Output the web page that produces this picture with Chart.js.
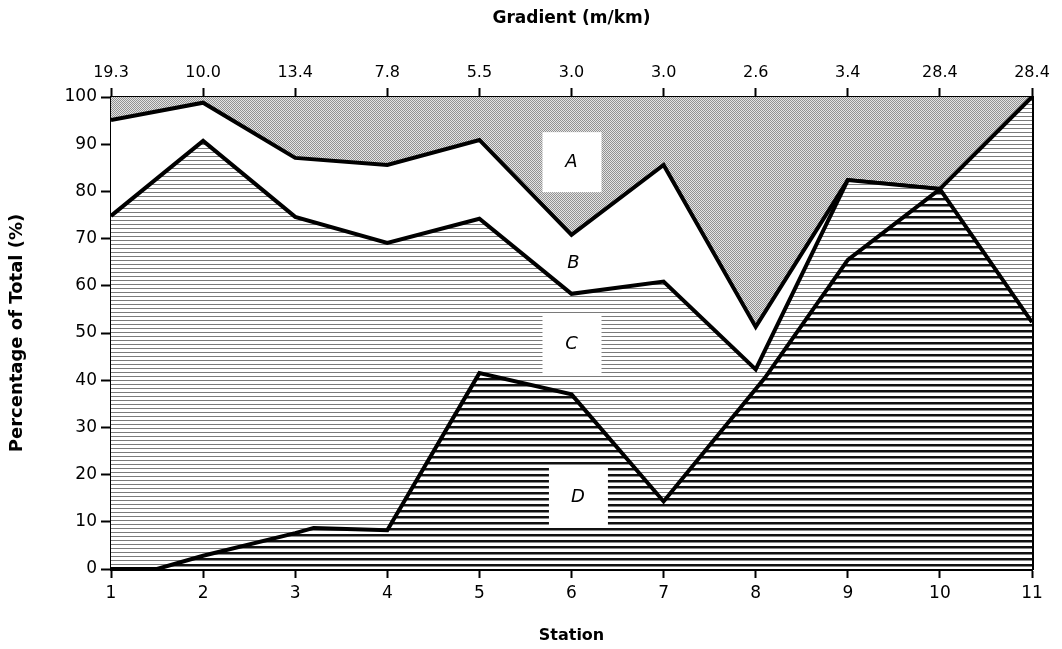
<!DOCTYPE html>
<html>
<head>
<meta charset="utf-8">
<script src="https://cdn.jsdelivr.net/npm/chart.js@4.4.0/dist/chart.umd.min.js"></script>
<style>
  body { margin: 0; background: #fff; }
  #wrap { width: 1062px; height: 649px; }
</style>
</head>
<body>
<div id="wrap"><canvas id="chart" width="1062" height="649"></canvas></div>
<script>
// stations along the stream, and gradient at each one (top axis)
const stations = [1, 2, 3, 4, 5, 6, 7, 8, 9, 10, 11];
const gradientLabels = ['19.3', '10.0', '13.4', '7.8', '5.5', '3.0', '3.0', '2.6', '3.4', '28.4', '28.4'];

// cumulative boundaries (percent of total)
const dStations = [1, 1.5, 2, 3, 3.2, 4, 5, 6, 7, 8.1, 9, 10, 11];
const dTop = [0, 0, 2.8, 7.6, 8.7, 8.2, 41.5, 37, 14.3, 40.5, 65.5, 80.5, 52.3];
const cTop = [74.8, 90.7, 74.6, 69.1, 74.2, 58.3, 60.9, 42.3, 82.4, 80.5, 100];
const bTop = [95.1, 98.8, 87.1, 85.6, 90.9, 70.8, 85.6, 51.3, 82.4, 80.5, 100];
const aTop = [100, 100, 100, 100, 100, 100, 100, 100, 100, 100, 100];

// region labels (station, percent)
const regionNames = ['A', 'B', 'C', 'D'];
const regionX = [6.0, 6.02, 6.0, 6.07];
const regionY = [86.2, 64.8, 47.7, 15.1];
const regionBox = [true, false, true, true];

function makePattern(w, h, draw) {
    const c = document.createElement('canvas');
    c.width = w; c.height = h;
    const g = c.getContext('2d');
    g.fillStyle = '#fff';
    g.fillRect(0, 0, w, h);
    draw(g);
    return g.createPattern(c, 'repeat');
}

// stipple for A
const patA = makePattern(2, 2, g => {
    g.fillStyle = '#e4e4e4'; g.fillRect(0, 0, 2, 2);
    g.fillStyle = '#929292'; g.fillRect(0, 0, 1, 1); g.fillRect(1, 1, 1, 1);
});
// fine grey rules for C
const patC = makePattern(4, 4, g => {
    g.fillStyle = '#7a7a7a'; g.fillRect(0, 0, 4, 1);
});
// heavy black rules for D
const patD = makePattern(6, 6, g => {
    g.fillStyle = '#111'; g.fillRect(0, 0, 6, 2);
    g.fillStyle = '#888'; g.fillRect(0, 2, 6, 1);
});

const font = "'DejaVu Sans', sans-serif";

const regionLabels = {
    id: 'regionLabels',
    afterDatasetsDraw(chart) {
        const ctx = chart.ctx;
        const xs = chart.scales.x, ys = chart.scales.y;
        ctx.save();
        regionNames.forEach((name, i) => {
            const px = xs.getPixelForValue(regionX[i]);
            const py = ys.getPixelForValue(regionY[i]);
            if (regionBox[i]) {
                ctx.fillStyle = '#fff';
                ctx.fillRect(px - 29, py - 30, 59, 60);
            }
            ctx.fillStyle = '#000';
            ctx.font = 'italic 18px ' + font;
            ctx.textAlign = 'center';
            ctx.textBaseline = 'middle';
            ctx.fillText(name, px, py);
        });
        ctx.restore();
    }
};

function line(xsArr, ysArr, fill, bg, bw) {
    return {
        data: xsArr.map((x, i) => ({ x: x, y: ysArr[i] })),
        fill: fill,
        backgroundColor: bg,
        borderColor: '#000',
        borderWidth: bw,
        borderJoinStyle: 'miter',
        pointRadius: 0,
        tension: 0
    };
}

const ctx = document.getElementById('chart').getContext('2d');
new Chart(ctx, {
    type: 'line',
    data: {
        datasets: [
            line(dStations, dTop, 'origin', patD, 4),
            line(stations, cTop, '-1', patC, 4),
            line(stations, bTop, '-1', '#fff', 4),
            line(stations, aTop, '-1', patA, 0)
        ]
    },
    options: {
        responsive: false,
        animation: false,
        layout: { padding: 0 },
        plugins: {
            legend: { display: false },
            tooltip: { enabled: false }
        },
        scales: {
            x: {
                type: 'linear',
                position: 'bottom',
                min: 1, max: 11,
                afterFit: s => { s.height = 80; },
                ticks: { stepSize: 1, color: '#000', padding: 5, font: { family: font, size: 17 } },
                grid: { drawOnChartArea: false, tickLength: 9, tickWidth: 2, color: '#000' },
                border: { color: '#000', width: 3 },
                title: { display: true, text: 'Station', color: '#000', padding: { top: 4, bottom: 4 }, font: { family: font, size: 16, weight: 'bold' } }
            },
            x2: {
                type: 'linear',
                position: 'top',
                min: 1, max: 11,
                afterFit: s => { s.height = 97; },
                ticks: {
                    stepSize: 1, color: '#000', padding: 6,
                    font: { family: font, size: 16 },
                    callback: v => gradientLabels[v - 1]
                },
                grid: { drawOnChartArea: false, tickLength: 9, tickWidth: 2, color: '#000' },
                border: { color: '#000', width: 3 },
                title: { display: true, text: 'Gradient (m/km)', color: '#000', padding: { top: 8, bottom: 4 }, font: { family: font, size: 17, weight: 'bold' } }
            },
            y: {
                min: 0, max: 100,
                afterFit: s => { s.width = 111; },
                ticks: { stepSize: 10, color: '#000', padding: 4, font: { family: font, size: 17 } },
                grid: { drawOnChartArea: false, tickLength: 10, tickWidth: 2, color: '#000' },
                border: { color: '#000', width: 3 },
                title: { display: true, text: 'Percentage of Total (%)', color: '#000', padding: { top: 7, bottom: 4 }, font: { family: font, size: 18, weight: 'bold' } }
            },
            y2: {
                position: 'right',
                min: 0, max: 100,
                afterFit: s => { s.width = 30; },
                ticks: { display: false },
                grid: { display: false },
                border: { color: '#000', width: 3 }
            }
        }
    },
    plugins: [regionLabels]
});
</script>
</body>
</html>
